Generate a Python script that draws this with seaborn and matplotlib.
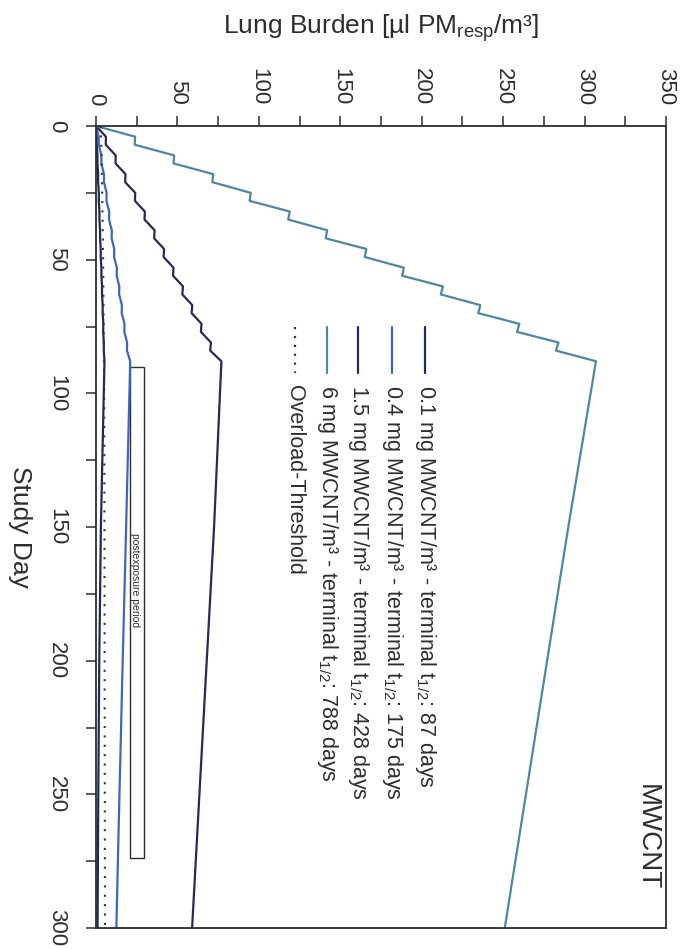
import numpy as np
import pandas as pd
import seaborn as sns
import matplotlib.pyplot as plt
from matplotlib.patches import Rectangle

# exposure phase (5 exposure days, then weekend), read from the staircase
exp_days = [0, 4, 7, 11, 14, 18, 21, 25, 28, 32, 35, 39, 42, 46, 49, 53,
            56, 60, 63, 67, 70, 74, 77, 81, 84, 88]
exp_6 = [0, 24, 23.8, 48, 47.6, 72, 71.4, 95, 94.3, 119, 118, 142, 141, 166,
         165, 189, 188, 213, 211.7, 236, 234.7, 260, 258.5, 284, 282.4, 307]
exp_15 = [0, 6.1, 6.0, 12.1, 12.0, 18.1, 17.9, 24.1, 23.9, 30.0, 29.8, 36.0,
          35.7, 41.8, 41.5, 47.6, 47.3, 53.4, 53.0, 59.1, 58.7, 64.8, 64.4,
          70.6, 70.1, 77.0]
exp_04 = [0, 1.7, 1.7, 3.3, 3.3, 4.9, 4.9, 6.5, 6.4, 8.1, 8.0, 9.7, 9.6, 11.2,
          11.1, 12.8, 12.7, 14.3, 14.2, 15.9, 15.8, 17.5, 17.4, 19.1, 19.0, 21.0]
exp_01 = [0, 0.45, 0.45, 0.9, 0.9, 1.3, 1.3, 1.75, 1.7, 2.1, 2.1, 2.5, 2.5,
          2.9, 2.9, 3.3, 3.3, 3.7, 3.7, 4.1, 4.1, 4.5, 4.4, 4.8, 4.8, 5.2]

# postexposure phase
post_days = [88, 150, 200, 250, 300]
post_6 = [307, 290, 277, 264, 251]
post_15 = [77, 72.5, 68, 63.5, 59]
post_04 = [21, 18.5, 16.4, 14.4, 12.5]
post_01 = [5.2, 3.0, 2.0, 1.4, 0.95]

# overload threshold
thr_days = [0, 25, 50, 100, 150, 200, 250, 300]
thr_vals = [3.0, 3.8, 4.4, 5.0, 5.2, 5.3, 5.4, 5.5]

labels = ['0.1 mg MWCNT/m³ - terminal t$_{1/2}$: 87 days',
          '0.4 mg MWCNT/m³ - terminal t$_{1/2}$: 175 days',
          '1.5 mg MWCNT/m³ - terminal t$_{1/2}$: 428 days',
          '6 mg MWCNT/m³ - terminal t$_{1/2}$: 788 days',
          'Overload-Threshold']
colors = ['#1f2a5c', '#3d66c2', '#2b2858', '#4f86a6', '#333333']

# postexposure period marker (burden range, day range)
box_burden = [21, 29.5]
box_days = [90, 274]

sns.set_theme(style='ticks')
plt.rcParams['font.family'] = ['Liberation Sans', 'DejaVu Sans']
plt.rcParams['mathtext.fontset'] = 'custom'
plt.rcParams['mathtext.rm'] = 'Liberation Sans'
plt.rcParams['mathtext.it'] = 'Liberation Sans:italic'
plt.rcParams['mathtext.bf'] = 'Liberation Sans:bold'

ink = '#2a2f2a'
fig = plt.figure(figsize=(6.81, 9.49), dpi=100)
ax = fig.add_axes([96 / 681, 1 - 928 / 949, 570 / 681, 802 / 949])

series = [(exp_01, post_01), (exp_04, post_04), (exp_15, post_15), (exp_6, post_6)]
for (e, p), c in zip(series, colors[:4]):
    df = pd.DataFrame({'day': exp_days + post_days[1:], 'burden': e + p[1:]})
    sns.lineplot(data=df, x='burden', y='day', sort=False, estimator=None,
                 color=c, lw=1.6, ax=ax)

thr = pd.DataFrame({'day': thr_days, 'burden': thr_vals})
sns.lineplot(data=thr, x='burden', y='day', sort=False, estimator=None,
             color=colors[4], lw=1.5, ls=(0, (1, 3.5)), ax=ax)

ax.add_patch(Rectangle((box_burden[0], box_days[0]), box_burden[1] - box_burden[0],
                       box_days[1] - box_days[0], fill=False, ec=ink, lw=1))
ax.text(box_burden[0] + 3, 170, 'postexposure period', rotation=270,
        ha='center', va='center', fontsize=7.5, color=ink)

ax.set_xlim(0, 350)
ax.set_ylim(300, 0)
ax.set_xticks(np.arange(0, 351, 50))
ax.set_xticks(np.arange(0, 351, 25), minor=True)
ax.set_yticks(np.arange(0, 301, 50))
ax.set_yticks(np.arange(0, 301, 25), minor=True)
ax.xaxis.tick_top()
ax.tick_params(which='both', direction='out', length=7, width=1.1, color=ink,
               labelsize=16, labelcolor=ink)
ax.tick_params(axis='x', which='both', top=True, bottom=False, pad=8)
ax.tick_params(axis='y', which='both', right=False, pad=14)
for t in ax.get_xticklabels():
    t.set_rotation(270)
for t in ax.get_yticklabels():
    t.set_rotation(270)
    t.set_va('center')
for s in ax.spines.values():
    s.set_visible(True)
    s.set_color(ink)
    s.set_linewidth(1.3)

ax.xaxis.set_label_position('top')
ax.set_xlabel('Lung Burden [µl PM$_{\\mathrm{resp}}$/m³]', fontsize=19, color=ink)
ax.xaxis.set_label_coords(0.5, 1 + 98 / 802)
ax.xaxis.label.set_va('center')
ax.set_ylabel('Study Day', fontsize=19, rotation=270, color=ink)
ax.yaxis.set_label_coords(-76 / 570, 0.5)
ax.yaxis.label.set_va('center')

# legend drawn rotated to follow the page orientation
leg_x = [425, 392, 358, 327, 295]
for i, (lab, c) in enumerate(zip(labels, colors)):
    fx = (leg_x[i] - 96) / 570
    ls = (0, (1, 3)) if i == 4 else '-'
    ax.plot([fx, fx], [1 - (327 - 126) / 802, 1 - (373 - 126) / 802],
            transform=ax.transAxes, color=c, lw=1.6, ls=ls)
    ax.text(fx, 1 - (385 - 126) / 802, lab, transform=ax.transAxes, rotation=270,
            ha='center', va='top', fontsize=15.5, color=ink)

ax.text((647 - 96) / 570, 1 - (837 - 126) / 802, 'MWCNT', transform=ax.transAxes,
        rotation=270, ha='center', va='center', fontsize=20, color=ink)

fig.savefig('out.png', dpi=100, facecolor='white')
